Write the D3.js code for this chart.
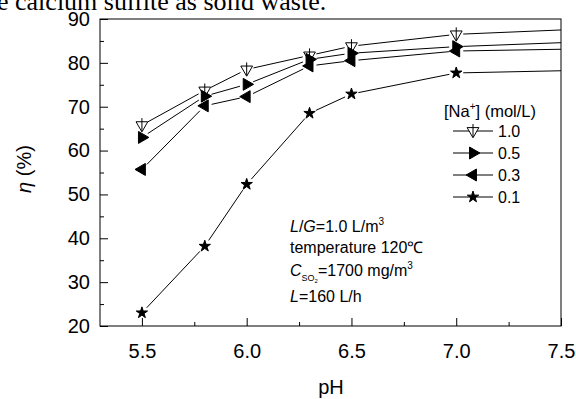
<!DOCTYPE html>
<html lang="en">
<head>
<meta charset="UTF-8">
<title>Removal efficiency vs pH</title>
<script src="https://d3js.org/d3.v7.min.js"></script>
<style>
    body { margin: 0; background: #fff; }
    text { font-family: "Liberation Sans", Arial, sans-serif; fill: #000; }
</style>
</head>
<body>
<div id="chart"></div>
<script>
// data
const pH = [5.5, 5.8, 6.0, 6.3, 6.5, 7.0];
const na10 = [65.8, 73.7, 78.5, 81.7, 83.8, 86.5];
const na05 = [63.0, 72.4, 75.1, 80.8, 82.2, 83.7];
const na03 = [55.7, 70.2, 72.3, 79.3, 80.5, 82.7];
const na01 = [23.0, 38.2, 52.3, 68.5, 72.9, 77.7];
// where each line leaves the frame at pH 7.5 (no marker there)
const tailPH = 7.5;
const tailValues = [87.5, 84.6, 83.1, 78.2];
const seriesNames = ["1.0", "0.5", "0.3", "0.1"];
const xTicks = [5.5, 6.0, 6.5, 7.0, 7.5];
const xMinor = [5.75, 6.25, 6.75, 7.25];
const yTicks = [20, 30, 40, 50, 60, 70, 80, 90];
const yMinor = [25, 35, 45, 55, 65, 75, 85];

const W = 576, H = 399;
const mLeft = 100, mRight = 561, mTop = 19, mBottom = 326;

const svg = d3.select("#chart").append("svg")
    .attr("width", W).attr("height", H);

// scrap of the surrounding page text, clipped at the top
svg.append("text")
    .attr("x", -3).attr("y", 10)
    .style("font-family", "'Liberation Serif', 'Times New Roman', serif")
    .style("font-size", "26px")
    .text("e calcium sulfite as solid waste.");

const x = d3.scaleLinear().domain([5.3, 7.5]).range([mLeft, mRight]);
const y = d3.scaleLinear().domain([20, 90]).range([mBottom, mTop]);

// frame
svg.append("rect")
    .attr("x", mLeft).attr("y", mTop)
    .attr("width", mRight - mLeft).attr("height", mBottom - mTop)
    .attr("fill", "none").attr("stroke", "#000").attr("stroke-width", 1);

// bottom axis, ticks pointing in
const xAxis = svg.append("g").attr("transform", `translate(0,${mBottom})`)
    .call(d3.axisBottom(x).tickValues(xTicks).tickSizeInner(-8).tickSizeOuter(0)
        .tickPadding(18).tickFormat(d3.format(".1f")));
xAxis.select(".domain").remove();
xAxis.selectAll("text").style("font-size", "20px");
svg.append("g").attr("transform", `translate(0,${mBottom})`)
    .call(d3.axisBottom(x).tickValues(xMinor).tickSizeInner(-4).tickSizeOuter(0).tickFormat(""))
    .select(".domain").remove();

// left axis
const yAxis = svg.append("g").attr("transform", `translate(${mLeft},0)`)
    .call(d3.axisLeft(y).tickValues(yTicks).tickSizeInner(-8).tickSizeOuter(0).tickPadding(10));
yAxis.select(".domain").remove();
yAxis.selectAll("text").style("font-size", "20px");
svg.append("g").attr("transform", `translate(${mLeft},0)`)
    .call(d3.axisLeft(y).tickValues(yMinor).tickSizeInner(-4).tickSizeOuter(0).tickFormat(""))
    .select(".domain").remove();
svg.selectAll(".tick line").attr("stroke", "#000");

// axis titles
svg.append("text")
    .attr("x", 331).attr("y", 394)
    .attr("text-anchor", "middle")
    .style("font-size", "20px")
    .text("pH");
const yt = svg.append("text")
    .attr("transform", "translate(31,169) rotate(-90)")
    .attr("text-anchor", "middle")
    .style("font-size", "20px");
yt.append("tspan").style("font-style", "italic").text("η");
yt.append("tspan").text(" (%)");

// markers
const sym = {
    "1.0": { type: d3.symbolTriangle, size: 60, rot: 180, fill: "#fff", cross: true },
    "0.5": { type: d3.symbolTriangle, size: 62, rot: 90, fill: "#000" },
    "0.3": { type: d3.symbolTriangle, size: 62, rot: -90, fill: "#000" },
    "0.1": { type: d3.symbolStar, size: 40, rot: 0, fill: "#000" }
};

function drawMarker(g, name, cx, cy) {
    const s = sym[name];
    const m = g.append("g").attr("transform", `translate(${cx},${cy})`);
    m.append("path")
        .attr("d", d3.symbol().type(s.type).size(s.size)())
        .attr("transform", `rotate(${s.rot})`)
        .attr("fill", s.fill).attr("stroke", "#000").attr("stroke-width", 1);
    if (s.cross) {
        m.append("line").attr("x1", 0).attr("x2", 0).attr("y1", -7).attr("y2", 6)
            .attr("stroke", "#000").attr("stroke-width", 1);
    }
}

const line = d3.line();
const gap = 7;

function shortened(p0, p1, g0, g1) {
    const dx = p1[0] - p0[0], dy = p1[1] - p0[1];
    const len = Math.hypot(dx, dy);
    return [[p0[0] + dx * g0 / len, p0[1] + dy * g0 / len],
            [p1[0] - dx * g1 / len, p1[1] - dy * g1 / len]];
}

const allSeries = [na10, na05, na03, na01];
const plot = svg.append("g");

allSeries.forEach((vals, i) => {
    const pts = pH.map((p, j) => [x(p), y(vals[j])]);
    const g = plot.append("g");
    for (let j = 0; j < pts.length - 1; j++) {
        g.append("path")
            .attr("d", line(shortened(pts[j], pts[j + 1], gap, gap)))
            .attr("fill", "none").attr("stroke", "#000").attr("stroke-width", 1);
    }
    const last = pts[pts.length - 1];
    g.append("path")
        .attr("d", line(shortened(last, [x(tailPH), y(tailValues[i])], gap, 0)))
        .attr("fill", "none").attr("stroke", "#000").attr("stroke-width", 1);
    pts.forEach(p => drawMarker(g, seriesNames[i], p[0], p[1]));
});

// legend
const lg = svg.append("g");
const head = lg.append("text").attr("x", 444).attr("y", 117).style("font-size", "16.5px");
head.append("tspan").text("[Na");
head.append("tspan").attr("dy", -7).style("font-size", "10px").text("+");
head.append("tspan").attr("dy", 7).text("] (mol/L)");

seriesNames.forEach((name, i) => {
    const base = 137 + i * 22;
    const cy = base - 6;
    lg.append("line").attr("x1", 453).attr("x2", 493).attr("y1", cy).attr("y2", cy)
        .attr("stroke", "#000").attr("stroke-width", 1);
    drawMarker(lg, name, 473, cy);
    lg.append("text").attr("x", 498).attr("y", base).style("font-size", "16px").text(name);
});

// run conditions
const ann = svg.append("g").style("font-size", "16px");
const a1 = ann.append("text").attr("x", 290).attr("y", 232);
a1.append("tspan").style("font-style", "italic").text("L");
a1.append("tspan").text("/");
a1.append("tspan").style("font-style", "italic").text("G");
a1.append("tspan").text("=1.0 L/m");
a1.append("tspan").attr("dy", -7).style("font-size", "10px").text("3");

ann.append("text").attr("x", 290).attr("y", 253).text("temperature 120\u2103");

const a3 = ann.append("text").attr("x", 290).attr("y", 276);
a3.append("tspan").style("font-style", "italic").text("C");
a3.append("tspan").attr("dy", 5).style("font-size", "9px").text("SO");
a3.append("tspan").attr("dy", 2).style("font-size", "6px").text("2");
a3.append("tspan").attr("dy", -7).text("=1700 mg/m");
a3.append("tspan").attr("dy", -7).style("font-size", "10px").text("3");

const a4 = ann.append("text").attr("x", 290).attr("y", 302);
a4.append("tspan").style("font-style", "italic").text("L");
a4.append("tspan").text("=160 L/h");
</script>
</body>
</html>
